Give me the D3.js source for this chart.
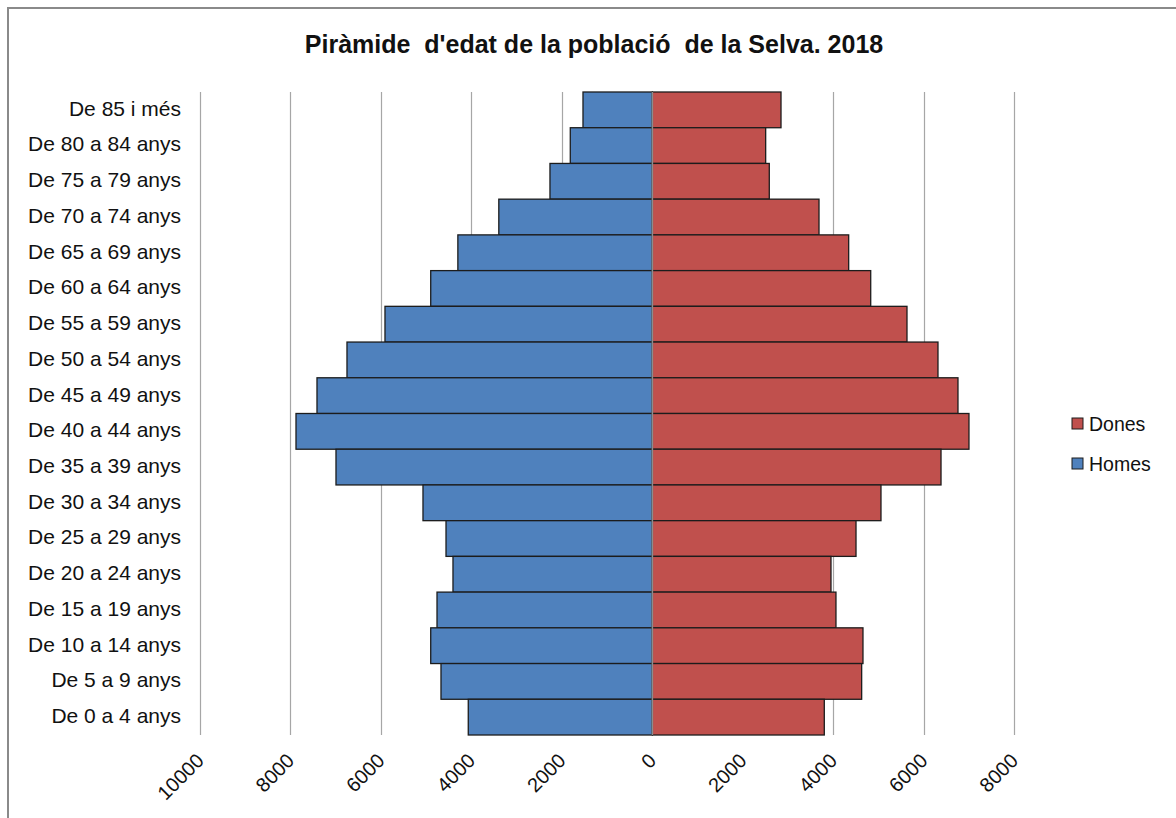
<!DOCTYPE html>
<html>
<head>
<meta charset="utf-8">
<script src="https://cdn.jsdelivr.net/npm/d3@7"></script>
<style>
    body { margin: 0; background: #fff; }
    svg { display: block; font-family: "Liberation Sans", Arial, sans-serif; }
</style>
</head>
<body>
<div id="chart"></div>
<script>
const ageGroups = ["De 85 i més", "De 80 a 84 anys", "De 75 a 79 anys", "De 70 a 74 anys",
    "De 65 a 69 anys", "De 60 a 64 anys", "De 55 a 59 anys", "De 50 a 54 anys",
    "De 45 a 49 anys", "De 40 a 44 anys", "De 35 a 39 anys", "De 30 a 34 anys",
    "De 25 a 29 anys", "De 20 a 24 anys", "De 15 a 19 anys", "De 10 a 14 anys",
    "De 5 a 9 anys", "De 0 a 4 anys"];

const homes = [1534, 1815, 2264, 3395, 4300, 4900, 5911, 6751, 7414, 7878,
    6994, 5071, 4562, 4408, 4761, 4900, 4673, 4070];

const dones = [2843, 2504, 2584, 3683, 4339, 4826, 5628, 6313, 6755, 6998,
    6380, 5053, 4501, 3948, 4058, 4655, 4626, 3800];

const xTicks = [-10000, -8000, -6000, -4000, -2000, 0, 2000, 4000, 6000, 8000];

const legendItems = [
    {name: "Dones", color: "#C0504D"},
    {name: "Homes", color: "#4F81BD"}
];

const title = "Piràmide  d'edat de la població  de la Selva. 2018";

const width = 1176, height = 818;

const svg = d3.select("#chart").append("svg")
    .attr("width", width).attr("height", height);

// frame of the chart area (only top and left edges show in the picture)
svg.append("rect")
    .attr("x", 8).attr("y", 8)
    .attr("width", width + 10).attr("height", height + 10)
    .style("fill", "none").style("stroke", "#8a8a8a").style("stroke-width", 2);

svg.append("text")
    .attr("x", 594).attr("y", 53)
    .attr("text-anchor", "middle")
    .style("font-size", "25px").style("font-weight", "bold")
    .style("white-space", "pre").style("fill", "#111")
    .text(title);

const x = d3.scaleLinear().domain([-10000, 8000]).range([200, 1014.3]);
const y = d3.scaleBand().domain(ageGroups).range([92, 735]).padding(0);

const g = svg.append("g");

// gridlines
g.selectAll("line.grid").data(xTicks)
    .enter().append("line")
    .attr("class", "grid")
    .attr("x1", d => Math.round(x(d)) + 0.5).attr("x2", d => Math.round(x(d)) + 0.5)
    .attr("y1", 92).attr("y2", 735)
    .style("stroke", "#a6a6a6").style("stroke-width", 1.2);

// bars
g.selectAll("rect.homes").data(ageGroups)
    .enter().append("rect")
    .attr("class", "homes")
    .attr("x", (d, i) => x(-homes[i]))
    .attr("y", d => y(d))
    .attr("width", (d, i) => x(0) - x(-homes[i]))
    .attr("height", y.bandwidth())
    .style("fill", "#4F81BD").style("stroke", "#1c1c1c").style("stroke-width", 1.3);

g.selectAll("rect.dones").data(ageGroups)
    .enter().append("rect")
    .attr("class", "dones")
    .attr("x", x(0))
    .attr("y", d => y(d))
    .attr("width", (d, i) => x(dones[i]) - x(0))
    .attr("height", y.bandwidth())
    .style("fill", "#C0504D").style("stroke", "#1c1c1c").style("stroke-width", 1.3);

// vertical axis at zero
g.append("line")
    .attr("x1", x(0)).attr("x2", x(0))
    .attr("y1", 92).attr("y2", 735)
    .style("stroke", "#8c8c8c").style("stroke-width", 1.5);

// category labels
g.selectAll("text.cat").data(ageGroups)
    .enter().append("text")
    .attr("class", "cat")
    .attr("x", 181)
    .attr("y", d => y(d) + y.bandwidth() / 2)
    .attr("dy", "0.28em")
    .attr("text-anchor", "end")
    .style("font-size", "21px").style("fill", "#111")
    .text(d => d);

// tick labels, rotated
g.selectAll("text.tick").data(xTicks)
    .enter().append("text")
    .attr("class", "tick")
    .attr("text-anchor", "end")
    .attr("transform", d => `translate(${x(d) + 5}, 762) rotate(-45)`)
    .style("font-size", "20px").style("fill", "#111")
    .text(d => Math.abs(d));

// legend
const legend = svg.append("g").selectAll("g").data(legendItems)
    .enter().append("g")
    .attr("transform", (d, i) => `translate(1072, ${418 + i * 40})`);

legend.append("rect")
    .attr("width", 11).attr("height", 11)
    .style("fill", d => d.color).style("stroke", "#1c1c1c").style("stroke-width", 1);

legend.append("text")
    .attr("x", 17).attr("y", 6)
    .attr("dy", "0.34em")
    .style("font-size", "19.5px").style("fill", "#111")
    .text(d => d.name);
</script>
</body>
</html>
